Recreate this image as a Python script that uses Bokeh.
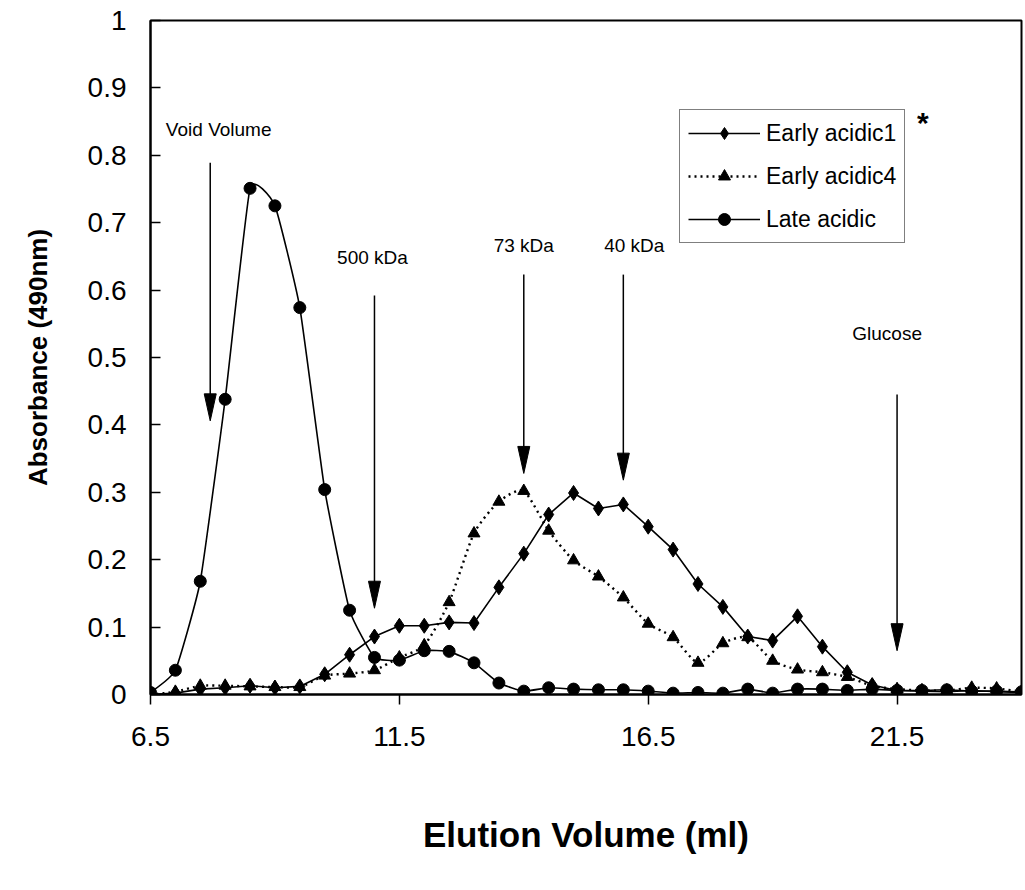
import numpy as np
from bokeh.plotting import figure
from bokeh.models import Range1d, FixedTicker, Legend, LegendItem
from bokeh.core.properties import value
from bokeh.embed import file_html
from bokeh.resources import INLINE

# Gel filtration profiles: absorbance at 490 nm per collected fraction
volume_ml = [6.5, 7.0, 7.5, 8.0, 8.5, 9.0, 9.5, 10.0, 10.5, 11.0, 11.5, 12.0,
             12.5, 13.0, 13.5, 14.0, 14.5, 15.0, 15.5, 16.0, 16.5, 17.0, 17.5, 18.0,
             18.5, 19.0, 19.5, 20.0, 20.5, 21.0, 21.5, 22.0, 22.5, 23.0, 23.5, 24.0]

early_acidic1 = [0.000, 0.002, 0.008, 0.010, 0.013, 0.010, 0.012, 0.030, 0.059, 0.086, 0.102, 0.102,
                 0.107, 0.106, 0.159, 0.209, 0.267, 0.299, 0.276, 0.282, 0.249, 0.215, 0.164, 0.130,
                 0.086, 0.080, 0.116, 0.071, 0.033, 0.014, 0.006, 0.005, 0.004, 0.006, 0.004, 0.003]

early_acidic4 = [0.000, 0.004, 0.013, 0.013, 0.012, 0.011, 0.011, 0.028, 0.031, 0.036, 0.055, 0.073,
                 0.137, 0.239, 0.286, 0.302, 0.243, 0.199, 0.175, 0.144, 0.105, 0.085, 0.047, 0.076,
                 0.085, 0.050, 0.037, 0.033, 0.026, 0.013, 0.008, 0.006, 0.006, 0.010, 0.009, 0.004]

late_acidic = [0.003, 0.036, 0.168, 0.438, 0.751, 0.725, 0.574, 0.304, 0.125, 0.055, 0.051, 0.065,
               0.064, 0.047, 0.017, 0.005, 0.010, 0.008, 0.007, 0.007, 0.005, 0.002, 0.003, 0.002,
               0.008, 0.002, 0.008, 0.008, 0.006, 0.008, 0.006, 0.006, 0.007, 0.005, 0.005, 0.004]

x_tick_values = [6.5, 11.5, 16.5, 21.5]
y_tick_values = [0.0, 0.1, 0.2, 0.3, 0.4, 0.5, 0.6, 0.7, 0.8, 0.9, 1.0]
y_tick_labels = ["0", "0.1", "0.2", "0.3", "0.4", "0.5", "0.6", "0.7", "0.8", "0.9", "1"]

# Calibration standards (elution volume of each marker)
standard_names = ["Void Volume", "500 kDa", "73 kDa", "40 kDa", "Glucose"]
standard_volume = [7.7, 11.0, 14.0, 16.0, 21.5]

# Arrow and label placement for the standards
arrow_top = [0.789, 0.592, 0.623, 0.623, 0.445]
arrow_tip = [0.406, 0.128, 0.328, 0.318, 0.065]
label_x = [7.87, 10.96, 14.0, 16.22, 21.3]
label_y = [0.838, 0.648, 0.666, 0.666, 0.535]

X_START, X_END = 6.5, 24.0
Y_START, Y_END = 0.0, 1.0
W, H = 1025, 890
BORDER_L, BORDER_R, BORDER_T, BORDER_B = 150, 4, 20, 196
FRAME_W = W - BORDER_L - BORDER_R
FRAME_H = H - BORDER_T - BORDER_B
FONT = value("Liberation Sans")

p = figure(width=W, height=H, output_backend="svg", toolbar_location=None,
           x_range=Range1d(X_START, X_END), y_range=Range1d(Y_START, Y_END),
           min_border_left=BORDER_L, min_border_right=BORDER_R,
           min_border_top=BORDER_T, min_border_bottom=BORDER_B)
p.background_fill_color = "white"
p.border_fill_color = "white"
p.outline_line_color = "black"
p.outline_line_width = 2
p.xgrid.visible = False
p.ygrid.visible = False

# Axes
xa = p.xaxis[0]
xa.ticker = FixedTicker(ticks=x_tick_values)
xa.major_label_overrides = {v: f"{v:g}" for v in x_tick_values}
xa.minor_tick_line_color = None
xa.major_tick_in = 0
xa.major_tick_out = 10
xa.major_tick_line_width = 1.5
xa.axis_line_width = 2
xa.major_label_text_font = "Liberation Sans"
xa.major_label_text_font_size = "28px"
xa.major_label_text_color = "black"
xa.major_label_standoff = 22
xa.axis_label = "Elution Volume (ml)"
xa.axis_label_text_font = "Liberation Sans"
xa.axis_label_text_font_style = "bold"
xa.axis_label_text_font_size = "35px"
xa.axis_label_text_color = "black"
xa.axis_label_standoff = 66

ya = p.yaxis[0]
ya.ticker = FixedTicker(ticks=y_tick_values)
ya.major_label_overrides = dict(zip(y_tick_values, y_tick_labels))
ya.minor_tick_line_color = None
ya.major_tick_in = 10
ya.major_tick_out = 0
ya.major_tick_line_width = 1.5
ya.axis_line_width = 2
ya.major_label_text_font = "Liberation Sans"
ya.major_label_text_font_size = "28px"
ya.major_label_text_color = "black"
ya.major_label_standoff = 24
ya.axis_label = "Absorbance (490nm)"
ya.axis_label_text_font = "Liberation Sans"
ya.axis_label_text_font_style = "bold"
ya.axis_label_text_font_size = "26px"
ya.axis_label_text_color = "black"
ya.axis_label_standoff = 32


def smooth_segments(xs, ys, k):
    """Cubic Bezier pieces through every point (Catmull-Rom style tangents)."""
    x = np.asarray(xs, float)
    y = np.asarray(ys, float)
    xp = np.concatenate([[x[0]], x, [x[-1]]])
    yp = np.concatenate([[y[0]], y, [y[-1]]])
    n = len(x)
    return dict(
        x0=x[:-1], y0=y[:-1], x1=x[1:], y1=y[1:],
        cx0=x[:-1] + k * (x[1:] - xp[:n - 1]),
        cy0=y[:-1] + k * (y[1:] - yp[:n - 1]),
        cx1=x[1:] - k * (xp[3:] - x[:-1]),
        cy1=y[1:] - k * (yp[3:] - y[:-1]),
    )


# Early acidic1: solid line, diamonds
r1_line = p.line(volume_ml, early_acidic1, line_color="black", line_width=1.6)
r1_pts = p.scatter(volume_ml, early_acidic1, marker="diamond", size=15,
                   fill_color="black", line_color="black")

# Early acidic4: dotted smoothed line, triangles
r4_line = p.bezier(**smooth_segments(volume_ml, early_acidic4, 0.11), line_color="black",
                   line_width=2.4, line_dash="2 4")
r4_pts = p.scatter(volume_ml, early_acidic4, marker="triangle", size=12,
                   fill_color="black", line_color="black")

# Late acidic: solid smoothed line, circles
rl_line = p.bezier(**smooth_segments(volume_ml, late_acidic, 0.07), line_color="black",
                   line_width=1.6)
rl_pts = p.scatter(volume_ml, late_acidic, marker="circle", size=12,
                   fill_color="black", line_color="black")

# Standard markers: arrows with filled narrow heads
HEAD_W_PX, HEAD_LEN_PX = 12, 27
ml_per_px = (X_END - X_START) / FRAME_W
abs_per_px = (Y_END - Y_START) / FRAME_H
head_len = HEAD_LEN_PX * abs_per_px
half_w = HEAD_W_PX / 2 * ml_per_px
p.segment(x0=standard_volume, y0=arrow_top, x1=standard_volume,
          y1=[t + head_len * 0.9 for t in arrow_tip], line_color="black", line_width=1.5)
p.patches(xs=[[v - half_w, v, v + half_w] for v in standard_volume],
          ys=[[t + head_len, t, t + head_len] for t in arrow_tip],
          fill_color="black", line_color="black", line_width=1)
p.text(x=label_x, y=label_y, text=standard_names, text_font=FONT,
       text_font_size="19px", text_align="center", text_baseline="middle",
       text_color="black")

# Significance mark next to the legend
p.text(x=[22.02], y=[0.848], text=["*"], text_font=FONT, text_font_size="30px",
       text_font_style="bold", text_align="center", text_baseline="middle",
       text_color="black")

legend = Legend(items=[
    LegendItem(label="Early acidic1", renderers=[r1_line, r1_pts]),
    LegendItem(label="Early acidic4", renderers=[r4_line, r4_pts]),
    LegendItem(label="Late acidic", renderers=[rl_line, rl_pts]),
], location=(529, 451))
legend.label_text_font = "Liberation Sans"
legend.label_text_font_size = "23px"
legend.label_text_color = "black"
legend.glyph_width = 72
legend.glyph_height = 30
legend.label_height = 30
legend.label_standoff = 6
legend.spacing = 13
legend.padding = 8
legend.margin = 0
legend.border_line_color = "black"
legend.border_line_width = 1
legend.background_fill_color = "white"
legend.background_fill_alpha = 1.0
p.add_layout(legend)

open("out.html", "w").write(file_html(p, INLINE))
